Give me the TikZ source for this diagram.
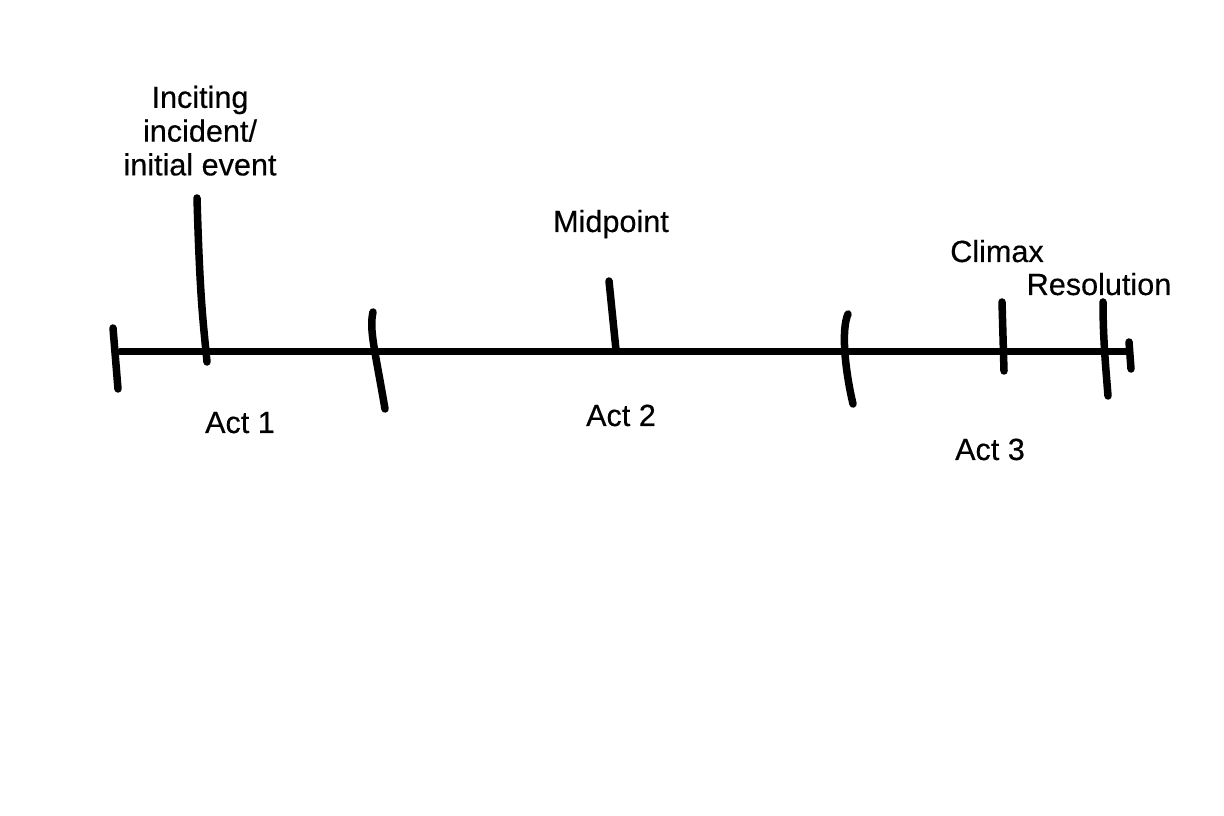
\documentclass[tikz,border=0pt]{standalone}
\usepackage{fontspec}
\setmainfont[FakeBold=0.4]{Liberation Sans}
\begin{document}
\begin{tikzpicture}[x=0.01cm,y=-0.01cm,
  axis/.style={line width=0.07cm,line cap=round},
  tick/.style={line width=0.075cm,line cap=round},
  lbl/.style={inner sep=0pt,font=\fontsize{8.7}{9.6}\selectfont},
  hdr/.style={lbl,anchor=base}]
\useasboundingbox (0,0) rectangle (1224,816);
% main line
\coordinate (L) at (120,352);
\coordinate (R) at (1128,352);
\draw[axis] (L) -- (R);
% ticks
\coordinate (s0a) at (113,328); \coordinate (s0b) at (118,389);
\draw[tick] (s0a) -- (s0b);
\coordinate (ia) at (197,198); \coordinate (ib) at (207,362);
\draw[tick] (ia) .. controls (200,300) and (203,320) .. (ib);
\coordinate (b1a) at (373,312); \coordinate (b1b) at (385,409);
\draw[tick] (b1a) .. controls (369,330) and (375,350) .. (b1b);
\coordinate (ma) at (609,281); \coordinate (mb) at (616,350);
\draw[tick] (ma) -- (mb);
\coordinate (b2a) at (848,314); \coordinate (b2b) at (853,404);
\draw[tick] (b2a) .. controls (841,330) and (845,370) .. (b2b);
\coordinate (ca) at (1002,302); \coordinate (cb) at (1004,371);
\draw[tick] (ca) -- (cb);
\coordinate (ra) at (1103,302); \coordinate (rb) at (1108,396);
\draw[tick] (ra) .. controls (1103,340) and (1106,370) .. (rb);
\coordinate (ea) at (1129,342); \coordinate (eb) at (1131,369);
\draw[tick] (ea) -- (eb);
% labels
\node[lbl,anchor=north,align=center] (inc) at (200,85) {Inciting\\incident/\\initial event};
\node[hdr] (mid) at (611,232) {Midpoint};
\node[hdr] (cli) at (997,262) {Climax};
\node[hdr] (res) at (1099,295) {Resolution};
\node[hdr] (a1) at (240,433) {Act 1};
\node[hdr] (a2) at (621,426) {Act 2};
\node[hdr] (a3) at (990,460) {Act 3};
\end{tikzpicture}
\end{document}
